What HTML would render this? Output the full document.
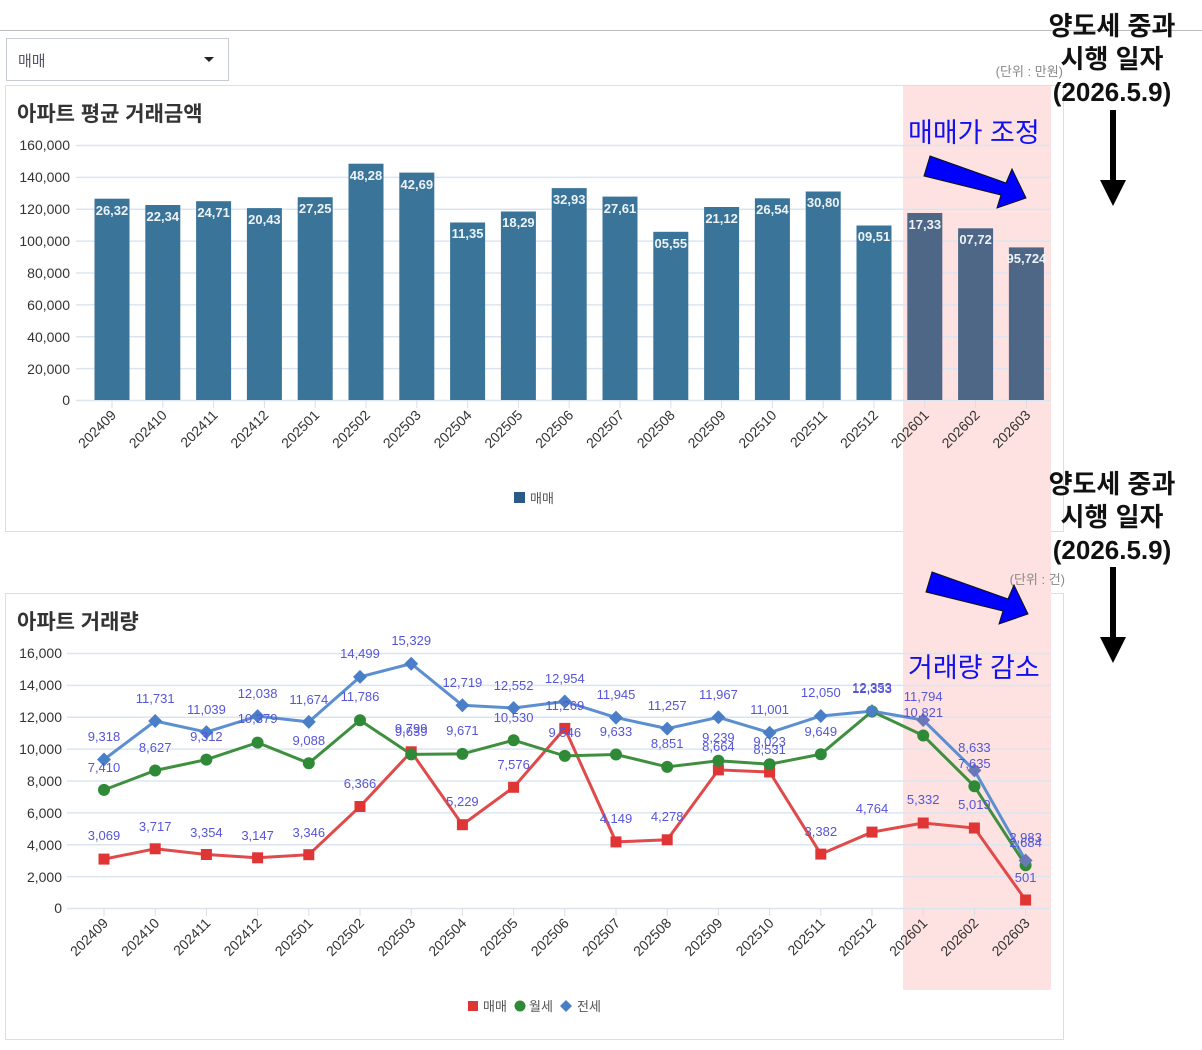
<!DOCTYPE html>
<html><head><meta charset="utf-8"><style>
body{margin:0;background:#fff;}
svg text{font-family:"Liberation Sans","Noto Sans CJK KR",sans-serif;}
</style></head><body>
<svg width="1202" height="1045" viewBox="0 0 1202 1045" xmlns="http://www.w3.org/2000/svg">
<line x1="0" y1="30.5" x2="1202" y2="30.5" stroke="#bbb"/>
<rect x="6.5" y="38.5" width="222" height="42" fill="#fff" stroke="#c8cdd3"/>
<text x="18" y="66" font-size="15" fill="#556">매매</text>
<polygon points="204,57 214,57 209,62" fill="#222"/>
<rect x="5.5" y="85.5" width="1058" height="446" fill="#fff" stroke="#d5dfea"/>
<rect x="5.5" y="593.5" width="1058" height="446" fill="#fff" stroke="#d5dfea"/>
<rect x="903" y="86" width="148" height="904" fill="#fde2e1"/>
<text x="1063" y="76" font-size="13" fill="#888" text-anchor="end">(단위 : 만원)</text>
<text x="1065" y="584" font-size="13" fill="#888" text-anchor="end">(단위 : 건)</text>
<text x="17" y="121" font-size="21" font-weight="bold" fill="#333">아파트 평균 거래금액</text>
<text x="17" y="629" font-size="21" font-weight="bold" fill="#333">아파트 거래량</text>
<g stroke="#dbe5f0" stroke-width="1.5">
<line x1="76" y1="145.5" x2="1051" y2="145.5"/><line x1="76" y1="177.4" x2="1051" y2="177.4"/><line x1="76" y1="209.3" x2="1051" y2="209.3"/><line x1="76" y1="241.1" x2="1051" y2="241.1"/><line x1="76" y1="273" x2="1051" y2="273"/><line x1="76" y1="304.9" x2="1051" y2="304.9"/><line x1="76" y1="336.8" x2="1051" y2="336.8"/><line x1="76" y1="368.6" x2="1051" y2="368.6"/><line x1="76" y1="400.5" x2="1051" y2="400.5"/>
</g>
<g font-size="14" fill="#333" text-anchor="end">
<text x="70" y="150">160,000</text><text x="70" y="182">140,000</text><text x="70" y="214">120,000</text><text x="70" y="246">100,000</text><text x="70" y="278">80,000</text><text x="70" y="310">60,000</text><text x="70" y="342">40,000</text><text x="70" y="374">20,000</text><text x="70" y="405">0</text>
</g>
<g fill="#3a7599">
<rect x="94.5" y="198.7" width="35" height="201.3"/><rect x="145.3" y="205" width="35" height="195"/><rect x="196.1" y="201.2" width="35" height="198.8"/><rect x="246.9" y="208.1" width="35" height="191.9"/><rect x="297.7" y="197.2" width="35" height="202.8"/><rect x="348.5" y="163.7" width="35" height="236.3"/><rect x="399.3" y="172.6" width="35" height="227.4"/><rect x="450.1" y="222.5" width="35" height="177.5"/><rect x="500.9" y="211.5" width="35" height="188.5"/><rect x="551.7" y="188.1" width="35" height="211.9"/><rect x="602.5" y="196.6" width="35" height="203.4"/><rect x="653.3" y="231.8" width="35" height="168.2"/><rect x="704.1" y="207" width="35" height="193"/><rect x="754.9" y="198.3" width="35" height="201.7"/><rect x="805.7" y="191.5" width="35" height="208.5"/><rect x="856.5" y="225.5" width="35" height="174.5"/>
</g>
<g fill="#4e6787">
<rect x="907.3" y="213" width="35" height="187"/><rect x="958.1" y="228.3" width="35" height="171.7"/><rect x="1008.9" y="247.4" width="35" height="152.6"/>
</g>
<g font-size="13" font-weight="bold" fill="#eef3f8" text-anchor="middle">
<text x="112" y="215">26,32</text><text x="162.8" y="221">22,34</text><text x="213.6" y="217">24,71</text><text x="264.4" y="224">20,43</text><text x="315.2" y="213">27,25</text><text x="366" y="180">48,28</text><text x="416.8" y="189">42,69</text><text x="467.6" y="238">11,35</text><text x="518.4" y="227">18,29</text><text x="569.2" y="204">32,93</text><text x="620" y="213">27,61</text><text x="670.8" y="248">05,55</text><text x="721.6" y="223">21,12</text><text x="772.4" y="214">26,54</text><text x="823.2" y="207">30,80</text><text x="874" y="241">09,51</text><text x="924.8" y="229">17,33</text><text x="975.6" y="244">07,72</text><text x="1026.4" y="263">95,724</text>
</g>
<g stroke="#d5dfea"><line x1="112" y1="400" x2="112" y2="408"/><line x1="162.8" y1="400" x2="162.8" y2="408"/><line x1="213.6" y1="400" x2="213.6" y2="408"/><line x1="264.4" y1="400" x2="264.4" y2="408"/><line x1="315.2" y1="400" x2="315.2" y2="408"/><line x1="366" y1="400" x2="366" y2="408"/><line x1="416.8" y1="400" x2="416.8" y2="408"/><line x1="467.6" y1="400" x2="467.6" y2="408"/><line x1="518.4" y1="400" x2="518.4" y2="408"/><line x1="569.2" y1="400" x2="569.2" y2="408"/><line x1="620" y1="400" x2="620" y2="408"/><line x1="670.8" y1="400" x2="670.8" y2="408"/><line x1="721.6" y1="400" x2="721.6" y2="408"/><line x1="772.4" y1="400" x2="772.4" y2="408"/><line x1="823.2" y1="400" x2="823.2" y2="408"/><line x1="874" y1="400" x2="874" y2="408"/><line x1="924.8" y1="400" x2="924.8" y2="408"/><line x1="975.6" y1="400" x2="975.6" y2="408"/><line x1="1026.4" y1="400" x2="1026.4" y2="408"/></g>
<g font-size="14" fill="#333" text-anchor="end">
<text transform="translate(117,416) rotate(-45)">202409</text><text transform="translate(167.8,416) rotate(-45)">202410</text><text transform="translate(218.6,416) rotate(-45)">202411</text><text transform="translate(269.4,416) rotate(-45)">202412</text><text transform="translate(320.2,416) rotate(-45)">202501</text><text transform="translate(371,416) rotate(-45)">202502</text><text transform="translate(421.8,416) rotate(-45)">202503</text><text transform="translate(472.6,416) rotate(-45)">202504</text><text transform="translate(523.4,416) rotate(-45)">202505</text><text transform="translate(574.2,416) rotate(-45)">202506</text><text transform="translate(625,416) rotate(-45)">202507</text><text transform="translate(675.8,416) rotate(-45)">202508</text><text transform="translate(726.6,416) rotate(-45)">202509</text><text transform="translate(777.4,416) rotate(-45)">202510</text><text transform="translate(828.2,416) rotate(-45)">202511</text><text transform="translate(879,416) rotate(-45)">202512</text><text transform="translate(929.8,416) rotate(-45)">202601</text><text transform="translate(980.6,416) rotate(-45)">202602</text><text transform="translate(1031.4,416) rotate(-45)">202603</text>
</g>
<rect x="514" y="492" width="11" height="11" fill="#2a5a86"/>
<text x="530" y="503" font-size="13" fill="#555">매매</text>
<g stroke="#dbe5f0" stroke-width="1.5">
<line x1="67" y1="653.5" x2="1051" y2="653.5"/><line x1="67" y1="685.4" x2="1051" y2="685.4"/><line x1="67" y1="717.3" x2="1051" y2="717.3"/><line x1="67" y1="749.1" x2="1051" y2="749.1"/><line x1="67" y1="781" x2="1051" y2="781"/><line x1="67" y1="812.9" x2="1051" y2="812.9"/><line x1="67" y1="844.8" x2="1051" y2="844.8"/><line x1="67" y1="876.6" x2="1051" y2="876.6"/><line x1="67" y1="908.5" x2="1051" y2="908.5"/>
</g>
<g font-size="14" fill="#333" text-anchor="end">
<text x="62" y="658">16,000</text><text x="62" y="690">14,000</text><text x="62" y="722">12,000</text><text x="62" y="754">10,000</text><text x="62" y="786">8,000</text><text x="62" y="818">6,000</text><text x="62" y="850">4,000</text><text x="62" y="882">2,000</text><text x="62" y="913">0</text>
</g>
<g stroke="#d5dfea"><line x1="104" y1="908" x2="104" y2="916"/><line x1="155.2" y1="908" x2="155.2" y2="916"/><line x1="206.4" y1="908" x2="206.4" y2="916"/><line x1="257.6" y1="908" x2="257.6" y2="916"/><line x1="308.8" y1="908" x2="308.8" y2="916"/><line x1="360" y1="908" x2="360" y2="916"/><line x1="411.2" y1="908" x2="411.2" y2="916"/><line x1="462.4" y1="908" x2="462.4" y2="916"/><line x1="513.6" y1="908" x2="513.6" y2="916"/><line x1="564.8" y1="908" x2="564.8" y2="916"/><line x1="616" y1="908" x2="616" y2="916"/><line x1="667.2" y1="908" x2="667.2" y2="916"/><line x1="718.4" y1="908" x2="718.4" y2="916"/><line x1="769.6" y1="908" x2="769.6" y2="916"/><line x1="820.8" y1="908" x2="820.8" y2="916"/><line x1="872" y1="908" x2="872" y2="916"/><line x1="923.2" y1="908" x2="923.2" y2="916"/><line x1="974.4" y1="908" x2="974.4" y2="916"/><line x1="1025.6" y1="908" x2="1025.6" y2="916"/></g>
<g font-size="14" fill="#333" text-anchor="end">
<text transform="translate(109,924) rotate(-45)">202409</text><text transform="translate(160.2,924) rotate(-45)">202410</text><text transform="translate(211.4,924) rotate(-45)">202411</text><text transform="translate(262.6,924) rotate(-45)">202412</text><text transform="translate(313.8,924) rotate(-45)">202501</text><text transform="translate(365,924) rotate(-45)">202502</text><text transform="translate(416.2,924) rotate(-45)">202503</text><text transform="translate(467.4,924) rotate(-45)">202504</text><text transform="translate(518.6,924) rotate(-45)">202505</text><text transform="translate(569.8,924) rotate(-45)">202506</text><text transform="translate(621,924) rotate(-45)">202507</text><text transform="translate(672.2,924) rotate(-45)">202508</text><text transform="translate(723.4,924) rotate(-45)">202509</text><text transform="translate(774.6,924) rotate(-45)">202510</text><text transform="translate(825.8,924) rotate(-45)">202511</text><text transform="translate(877,924) rotate(-45)">202512</text><text transform="translate(928.2,924) rotate(-45)">202601</text><text transform="translate(979.4,924) rotate(-45)">202602</text><text transform="translate(1030.6,924) rotate(-45)">202603</text>
</g>
<polyline fill="none" stroke="#e04a4a" stroke-width="3" points="104,859.1 155.2,848.8 206.4,854.5 257.6,857.8 308.8,854.7 360,806.5 411.2,751.8 462.4,824.7 513.6,787.3 564.8,728.4 616,841.9 667.2,839.8 718.4,769.9 769.6,772 820.8,854.1 872,832.1 923.2,823 974.4,828 1025.6,900"/>
<polyline fill="none" stroke="#3f8f3f" stroke-width="3" points="104,789.9 155.2,770.5 206.4,759.6 257.6,742.6 308.8,763.2 360,720.2 411.2,754.4 462.4,753.9 513.6,740.2 564.8,755.9 616,754.5 667.2,766.9 718.4,760.8 769.6,764.2 820.8,754.2 872,711.4 923.2,735.5 974.4,786.3 1025.6,865.2"/>
<polyline fill="none" stroke="#5b8fd0" stroke-width="3" points="104,759.5 155.2,721 206.4,732.1 257.6,716.1 308.8,721.9 360,676.9 411.2,663.7 462.4,705.3 513.6,708 564.8,701.5 616,717.6 667.2,728.6 718.4,717.3 769.6,732.7 820.8,716 872,711.1 923.2,720 974.4,770.4 1025.6,860.5"/>
<g fill="#e03535">
<rect x="98.5" y="853.6" width="11" height="11"/><rect x="149.7" y="843.3" width="11" height="11"/><rect x="200.9" y="849" width="11" height="11"/><rect x="252.1" y="852.3" width="11" height="11"/><rect x="303.3" y="849.2" width="11" height="11"/><rect x="354.5" y="801" width="11" height="11"/><rect x="405.7" y="746.3" width="11" height="11"/><rect x="456.9" y="819.2" width="11" height="11"/><rect x="508.1" y="781.8" width="11" height="11"/><rect x="559.3" y="722.9" width="11" height="11"/><rect x="610.5" y="836.4" width="11" height="11"/><rect x="661.7" y="834.3" width="11" height="11"/><rect x="712.9" y="764.4" width="11" height="11"/><rect x="764.1" y="766.5" width="11" height="11"/><rect x="815.3" y="848.6" width="11" height="11"/><rect x="866.5" y="826.6" width="11" height="11"/><rect x="917.7" y="817.5" width="11" height="11"/><rect x="968.9" y="822.5" width="11" height="11"/><rect x="1020.1" y="894.5" width="11" height="11"/>
</g>
<g fill="#2f8a38">
<circle cx="104" cy="789.9" r="6"/><circle cx="155.2" cy="770.5" r="6"/><circle cx="206.4" cy="759.6" r="6"/><circle cx="257.6" cy="742.6" r="6"/><circle cx="308.8" cy="763.2" r="6"/><circle cx="360" cy="720.2" r="6"/><circle cx="411.2" cy="754.4" r="6"/><circle cx="462.4" cy="753.9" r="6"/><circle cx="513.6" cy="740.2" r="6"/><circle cx="564.8" cy="755.9" r="6"/><circle cx="616" cy="754.5" r="6"/><circle cx="667.2" cy="766.9" r="6"/><circle cx="718.4" cy="760.8" r="6"/><circle cx="769.6" cy="764.2" r="6"/><circle cx="820.8" cy="754.2" r="6"/><circle cx="872" cy="711.4" r="6"/><circle cx="923.2" cy="735.5" r="6"/><circle cx="974.4" cy="786.3" r="6"/><circle cx="1025.6" cy="865.2" r="6"/>
</g>
<g fill="#4a7fc8">
<path d="M104,752.5l7,7l-7,7l-7,-7z"/><path d="M155.2,714l7,7l-7,7l-7,-7z"/><path d="M206.4,725.1l7,7l-7,7l-7,-7z"/><path d="M257.6,709.1l7,7l-7,7l-7,-7z"/><path d="M308.8,714.9l7,7l-7,7l-7,-7z"/><path d="M360,669.9l7,7l-7,7l-7,-7z"/><path d="M411.2,656.7l7,7l-7,7l-7,-7z"/><path d="M462.4,698.3l7,7l-7,7l-7,-7z"/><path d="M513.6,701l7,7l-7,7l-7,-7z"/><path d="M564.8,694.5l7,7l-7,7l-7,-7z"/><path d="M616,710.6l7,7l-7,7l-7,-7z"/><path d="M667.2,721.6l7,7l-7,7l-7,-7z"/><path d="M718.4,710.3l7,7l-7,7l-7,-7z"/><path d="M769.6,725.7l7,7l-7,7l-7,-7z"/><path d="M820.8,709l7,7l-7,7l-7,-7z"/><path d="M872,704.1l7,7l-7,7l-7,-7z"/><path d="M923.2,713l7,7l-7,7l-7,-7z" fill="#6a78b8"/><path d="M974.4,763.4l7,7l-7,7l-7,-7z" fill="#6a78b8"/><path d="M1025.6,853.5l7,7l-7,7l-7,-7z" fill="#6a78b8"/>
</g>
<g font-size="13" fill="#5555d8" text-anchor="middle">
<text x="104" y="840">3,069</text><text x="155.2" y="831">3,717</text><text x="206.4" y="837">3,354</text><text x="257.6" y="840">3,147</text><text x="308.8" y="837">3,346</text><text x="360" y="788">6,366</text><text x="411.2" y="733">9,799</text><text x="462.4" y="806">5,229</text><text x="513.6" y="769">7,576</text><text x="564.8" y="710">11,269</text><text x="616" y="823">4,149</text><text x="667.2" y="821">4,278</text><text x="718.4" y="751">8,664</text><text x="769.6" y="754">8,531</text><text x="820.8" y="836">3,382</text><text x="872" y="813">4,764</text><text x="923.2" y="804">5,332</text><text x="974.4" y="809">5,019</text><text x="1025.6" y="882">501</text>
<text x="104" y="772">7,410</text><text x="155.2" y="752">8,627</text><text x="206.4" y="741">9,312</text><text x="257.6" y="723">10,379</text><text x="308.8" y="745">9,088</text><text x="360" y="701">11,786</text><text x="411.2" y="736">9,639</text><text x="462.4" y="735">9,671</text><text x="513.6" y="722">10,530</text><text x="564.8" y="737">9,546</text><text x="616" y="736">9,633</text><text x="667.2" y="748">8,851</text><text x="718.4" y="742">9,239</text><text x="769.6" y="746">9,023</text><text x="820.8" y="736">9,649</text><text x="872" y="693">12,333</text><text x="923.2" y="717">10,821</text><text x="974.4" y="768">7,635</text><text x="1025.6" y="847">2,684</text>
<text x="104" y="741">9,318</text><text x="155.2" y="703">11,731</text><text x="206.4" y="714">11,039</text><text x="257.6" y="698">12,038</text><text x="308.8" y="704">11,674</text><text x="360" y="658">14,499</text><text x="411.2" y="645">15,329</text><text x="462.4" y="687">12,719</text><text x="513.6" y="690">12,552</text><text x="564.8" y="683">12,954</text><text x="616" y="699">11,945</text><text x="667.2" y="710">11,257</text><text x="718.4" y="699">11,967</text><text x="769.6" y="714">11,001</text><text x="820.8" y="697">12,050</text><text x="872" y="692">12,353</text><text x="923.2" y="701">11,794</text><text x="974.4" y="752">8,633</text><text x="1025.6" y="842">2,983</text>
</g>
<rect x="468" y="1001" width="10" height="10" fill="#e03535"/><text x="483" y="1011" font-size="13" fill="#555">매매</text>
<circle cx="520" cy="1006" r="5.5" fill="#2f8a38"/><text x="529" y="1011" font-size="13" fill="#555">월세</text>
<path d="M566,1000l6,6l-6,6l-6,-6z" fill="#4a7fc8"/><text x="577" y="1011" font-size="13" fill="#555">전세</text>
<g font-size="26" font-weight="bold" fill="#111" text-anchor="middle">
<text x="1112" y="35">양도세 중과</text><text x="1112" y="68">시행 일자</text><text x="1112" y="101">(2026.5.9)</text>
<text x="1112" y="493">양도세 중과</text><text x="1112" y="526">시행 일자</text><text x="1112" y="559">(2026.5.9)</text>
</g>
<rect x="1110" y="110" width="6" height="72" fill="#000"/><polygon points="1100,180 1126,180 1113,206" fill="#000"/>
<rect x="1110" y="567" width="6" height="72" fill="#000"/><polygon points="1100,637 1126,637 1113,663" fill="#000"/>
<text x="908" y="142" font-size="27" fill="#1010f0">매매가 조정</text>
<text x="908" y="677" font-size="27" fill="#1010f0">거래량 감소</text>
<polygon points="930,156 1006,183 1012,169 1026,198 997,208 1001,195 924,176" fill="#0000ff" stroke="#111" stroke-width="1"/>
<polygon points="932,572 1008,599 1014,585 1028,614 999,624 1003,611 926,592" fill="#0000ff" stroke="#111" stroke-width="1"/>
</svg>
</body></html>
